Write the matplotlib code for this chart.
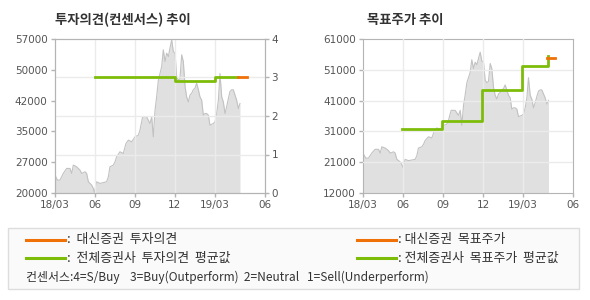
import numpy as np
import matplotlib
matplotlib.use('Agg')
import matplotlib.pyplot as plt
from matplotlib.patches import Rectangle
from matplotlib.lines import Line2D

plt.rcParams['font.family'] = ['Noto Sans CJK KR', 'DejaVu Sans']

# months since 2018/03
months = [0.04, 0.21, 0.41, 0.66, 0.91, 1.16, 1.29, 1.41, 1.66, 1.91, 2.04, 2.29, 2.41, 2.54,
          2.79, 2.91, 2.99, 3.16, 3.41, 3.66, 3.91, 4.04, 4.16, 4.41, 4.54, 4.66, 4.91, 5.16,
          5.36, 5.54, 5.79, 6.04, 6.29, 6.41, 6.61, 6.91, 7.16, 7.29, 7.41, 7.54, 7.66, 7.79,
          8.04, 8.16, 8.29, 8.41, 8.54, 8.66, 8.79, 8.91, 9.04, 9.16, 9.29, 9.41, 9.54, 9.66,
          9.79, 9.91, 10.04, 10.16, 10.29, 10.41, 10.54, 10.66, 10.79, 10.91, 11.04, 11.16,
          11.29, 11.41, 11.54, 11.66, 11.91, 12.04, 12.16, 12.29, 12.41, 12.54, 12.66, 12.79,
          12.91, 13.04, 13.16, 13.29, 13.41, 13.54, 13.66, 13.79, 13.91]
price = [24300, 23100, 23100, 24700, 25900, 25900, 24700, 26700, 26300, 25500, 24700, 25100,
         24700, 22700, 21900, 21100, 20100, 22700, 22300, 22500, 22700, 23900, 26300, 26700,
         27500, 28700, 29900, 29500, 31900, 32700, 32300, 33500, 33900, 35100, 38300, 38300,
         36700, 38300, 33500, 39900, 43100, 47100, 50400, 54400, 51600, 53600, 52800, 54800,
         56800, 54000, 53600, 47900, 47100, 47500, 53200, 51600, 45600, 43100, 41900, 43500,
         44000, 44800, 45200, 46400, 44800, 43100, 42300, 38700, 39100, 39100, 38700, 36300,
         36700, 37100, 39100, 42300, 48700, 43100, 41900, 39100, 40700, 42700, 44400, 44800,
         44800, 43500, 42300, 40300, 41500]

cons_x = [3, 9, 12, 13.76]
cons_y = [3, 2.9, 3, 3]
daishin_cons_x = [13.76, 14.41]
daishin_cons_y = [3, 3]

tp_x = [2.93, 5.95, 8.95, 11.9, 13.9]
tp_y = [32400, 35000, 44800, 52500, 55700]
daishin_tp_x = [13.8, 14.4]
daishin_tp_y = [55000, 55000]

xtick_pos = [0, 3, 6, 9, 12, 15.75]
xtick_labels = ['18/03', '06', '09', '12', '19/03', '06']
left_ylabels = ['20000', '27000', '35000', '42000', '50000', '57000']
right_ylabels = ['12000', '21000', '31000', '41000', '51000', '61000']

ORANGE = '#ef7108'
GREEN = '#7dbd0a'
GRID = '#ebebeb'
SPINE = '#b4b4b4'
TXT = '#555555'

W, H = 590, 300
fig = plt.figure(figsize=(W / 100, H / 100), dpi=100)


def style(ax):
    for s in ax.spines.values():
        s.set_color(SPINE)
    ax.tick_params(colors=SPINE, labelcolor=TXT, length=3, width=1, labelsize=7.5, pad=2)
    for lab in ax.get_xticklabels() + ax.get_yticklabels():
        lab.set_family('DejaVu Sans')


def draw_price(ax):
    ax.fill_between(months, price, 0, color='#e0e0e0', lw=0, zorder=1)
    ax.plot(months, price, color='#c2c2c2', lw=0.8, zorder=2)


# left chart: price on ax1, consensus on twin axis drawn on top
ax1 = fig.add_axes([54.5 / W, 1 - 193 / H, 210 / W, 154 / H])
ax1.set_xlim(0, 15.75)
ax1.set_ylim(20000, 57000)
ax1.set_yticks(np.linspace(20000, 57000, 6))
ax1.set_yticklabels(left_ylabels)
ax1.set_xticks(xtick_pos)
ax1.set_xticklabels(xtick_labels)
draw_price(ax1)
ax1r = ax1.twinx()
ax1r.set_xlim(0, 15.75)
ax1r.set_ylim(0, 4)
ax1r.set_yticks([0, 1, 2, 3, 4])
for m in xtick_pos[1:-1]:
    ax1r.axvline(m, color=GRID, lw=1, zorder=1)
for v in [1, 2, 3]:
    ax1r.axhline(v, color=GRID, lw=1, zorder=1)
ax1r.plot(cons_x, cons_y, drawstyle='steps-post', color=GREEN, lw=2, zorder=4)
ax1r.plot(daishin_cons_x, daishin_cons_y, color=ORANGE, lw=2, zorder=5)
style(ax1)
style(ax1r)

# right chart
ax2 = fig.add_axes([363 / W, 1 - 193 / H, 210 / W, 154 / H])
ax2.set_xlim(0, 15.75)
ax2.set_ylim(12000, 61000)
ax2.set_yticks(np.linspace(12000, 61000, 6))
ax2.set_yticklabels(right_ylabels)
ax2.set_xticks(xtick_pos)
ax2.set_xticklabels(xtick_labels)
draw_price(ax2)
for m in xtick_pos[1:-1]:
    ax2.axvline(m, color=GRID, lw=1, zorder=3)
for v in np.linspace(12000, 61000, 6)[1:-1]:
    ax2.axhline(v, color=GRID, lw=1, zorder=3)
ax2.plot(tp_x, tp_y, drawstyle='steps-post', color=GREEN, lw=2, zorder=4)
ax2.plot(daishin_tp_x, daishin_tp_y, color=ORANGE, lw=2, zorder=5)
style(ax2)

# titles
fig.text(55 / W, 1 - 20 / H, '투자의견(컨센서스) 추이', fontsize=9.6, fontweight='bold',
         color='#333333', va='center', ha='left')
fig.text(367 / W, 1 - 20 / H, '목표주가 추이', fontsize=9.6, fontweight='bold',
         color='#333333', va='center', ha='left')

# legend box
fig.patches.append(Rectangle((8 / W, 1 - 289 / H), 571 / W, 61 / H, transform=fig.transFigure,
                             facecolor='#fafafa', edgecolor='#dddddd', lw=1))
legend_rows = [
    (26, 240, ORANGE, ':  대신증권  투자의견'),
    (26, 258, GREEN, ':  전체증권사  투자의견  평균값'),
    (357, 240, ORANGE, ': 대신증권  목표주가'),
    (357, 258, GREEN, ': 전체증권사  목표주가  평균값'),
]
for x0, y0, c, label in legend_rows:
    fig.lines.append(Line2D([x0 / W, (x0 + 39) / W], [1 - y0 / H, 1 - y0 / H],
                            transform=fig.transFigure, color=c, lw=2.2))
    fig.text((x0 + 41) / W, 1 - y0 / H, label, fontsize=9.3, color='#333333',
             va='center', ha='left')
fig.text(26 / W, 1 - 277 / H,
         '컨센서스:4=S/Buy    3=Buy(Outperform)  2=Neutral   1=Sell(Underperform)',
         fontsize=8.6, color='#333333', va='center', ha='left')

fig.savefig('out.png', dpi=100)
